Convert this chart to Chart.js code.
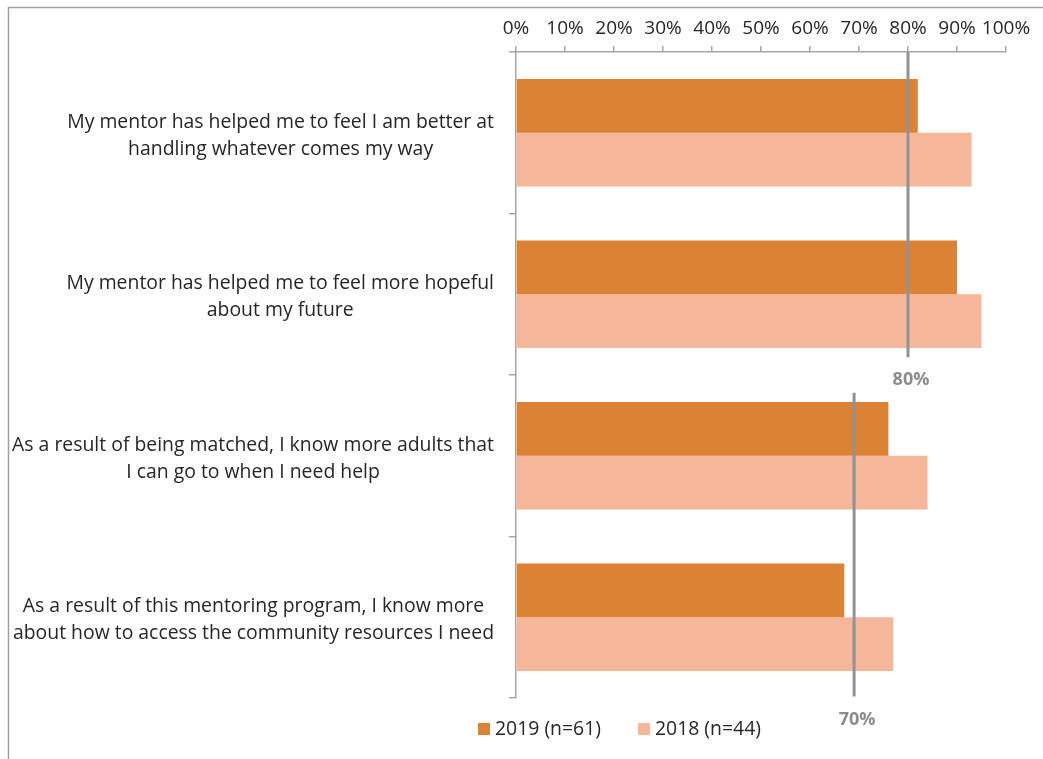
<!DOCTYPE html>
<html>
<head>
<meta charset="utf-8">
<script src="https://cdn.jsdelivr.net/npm/chart.js@4.4.0/dist/chart.umd.min.js"></script>
<style>
    html, body { margin: 0; padding: 0; background: #fff; }
    #wrap { position: relative; width: 1043px; height: 759px; }
</style>
</head>
<body>
<div id="wrap"><canvas id="chart" width="1043" height="759"></canvas></div>
<script>
// ── дані ──
const categories = [
    ['My mentor has helped me to feel I am better at', 'handling whatever comes my way'],
    ['My mentor has helped me to feel more hopeful', 'about my future'],
    ['As a result of being matched, I know more adults that', 'I can go to when I need help'],
    ['As a result of this mentoring program, I know more', 'about how to access the community resources I need']
];
const seriesNames = ['2019 (n=61)', '2018 (n=44)'];
const values2019  = [0.82, 0.90, 0.76, 0.67];
const values2018  = [0.93, 0.95, 0.84, 0.77];
const benchmarkValues = [0.80, 0.69];
const benchmarkLabels = ['80%', '70%'];

const FONT     = '"Open Sans", Lato, sans-serif';
const TEXT     = '#262626';
const AXIS     = '#a6a6a6';
const COLORS   = ['#db8234', '#f5b69a'];
const REF      = '#929292';

// рамка навколо діаграми (верх і лівий край)
const framePlugin = {
    id: 'frame',
    beforeDraw(chart) {
        const ctx = chart.ctx;
        ctx.save();
        ctx.strokeStyle = '#a0a0a0';
        ctx.lineWidth = 1.5;
        ctx.beginPath();
        ctx.moveTo(chart.width, 7.5);
        ctx.lineTo(8.5, 7.5);
        ctx.lineTo(8.5, chart.height);
        ctx.stroke();
        ctx.restore();
    }
};

// підписи категорій: блок вирівняний праворуч, рядки по центру блоку
const categoryLabelsPlugin = {
    id: 'catLabels',
    afterDraw(chart) {
        const ctx = chart.ctx, ys = chart.scales.y;
        ctx.save();
        ctx.font = '19.4px ' + FONT;
        ctx.fillStyle = TEXT;
        ctx.textAlign = 'center';
        ctx.textBaseline = 'middle';
        const lineH = 27;
        chart.data.labels.forEach((lines, i) => {
            const widest = Math.max(...lines.map(l => ctx.measureText(l).width));
            const cx = ys.right - 22 - widest / 2;
            const cy = ys.getPixelForValue(i) + 3;
            lines.forEach((l, j) => {
                ctx.fillText(l, cx, cy + (j - (lines.length - 1) / 2) * lineH);
            });
        });
        ctx.restore();
    }
};

// орієнтири 80% / 70%
const benchmarkSpans = [[-0.5, 1.39], [1.61, 3.49]];
const benchmarkPlugin = {
    id: 'benchmarks',
    afterDatasetsDraw(chart) {
        const ctx = chart.ctx, xs = chart.scales.x, ys = chart.scales.y;
        ctx.save();
        benchmarkValues.forEach((v, i) => {
            const x = xs.getPixelForValue(v);
            const y0 = ys.getPixelForValue(benchmarkSpans[i][0]);
            const y1 = ys.getPixelForValue(benchmarkSpans[i][1]);
            ctx.strokeStyle = REF;
            ctx.lineWidth = 3;
            ctx.beginPath();
            ctx.moveTo(x, y0);
            ctx.lineTo(x, y1);
            ctx.stroke();
            ctx.font = 'bold 18px ' + FONT;
            ctx.fillStyle = '#8c8c8c';
            ctx.textAlign = 'center';
            ctx.textBaseline = 'middle';
            ctx.fillText(benchmarkLabels[i], x + 3, y1 + 23);
        });
        ctx.restore();
    }
};

// легенда внизу
const legendPlugin = {
    id: 'bottomLegend',
    afterDraw(chart) {
        const ctx = chart.ctx;
        ctx.save();
        ctx.font = '19.4px ' + FONT;
        ctx.textBaseline = 'middle';
        ctx.textAlign = 'left';
        let x = 478;
        const y = 729;
        chart.data.datasets.forEach(ds => {
            ctx.fillStyle = ds.backgroundColor;
            ctx.fillRect(x, y - 6, 12, 12);
            ctx.fillStyle = TEXT;
            ctx.fillText(ds.label, x + 17, y);
            x += 17 + ctx.measureText(ds.label).width + 37;
        });
        ctx.restore();
    }
};

new Chart(document.getElementById('chart').getContext('2d'), {
    type: 'bar',
    data: {
        labels: categories,
        datasets: [
            { label: seriesNames[0], data: values2019, backgroundColor: COLORS[0], barPercentage: 1, categoryPercentage: 0.667 },
            { label: seriesNames[1], data: values2018, backgroundColor: COLORS[1], barPercentage: 1, categoryPercentage: 0.667 }
        ]
    },
    options: {
        indexAxis: 'y',
        responsive: false,
        animation: false,
        layout: { padding: { left: 0, top: 0, right: 37, bottom: 61 } },
        plugins: { legend: { display: false }, tooltip: { enabled: false } },
        scales: {
            x: {
                position: 'top', min: 0, max: 1,
                ticks: {
                    stepSize: 0.1, autoSkip: false, maxRotation: 0, padding: 6,
                    color: TEXT, font: { size: 19, family: FONT },
                    callback: v => Math.round(v * 100) + '%'
                },
                grid: { drawOnChartArea: false, tickLength: 6, color: AXIS, lineWidth: 1.5 },
                border: { color: AXIS, width: 1.5 },
                afterFit: s => { s.height = 52; }
            },
            y: {
                ticks: { display: false },
                grid: { offset: true, drawOnChartArea: false, tickLength: 7, color: AXIS, lineWidth: 1.5 },
                border: { color: AXIS, width: 1.5 },
                afterFit: s => { s.width = 516; }
            }
        }
    },
    plugins: [framePlugin, categoryLabelsPlugin, benchmarkPlugin, legendPlugin]
});
</script>
</body>
</html>
